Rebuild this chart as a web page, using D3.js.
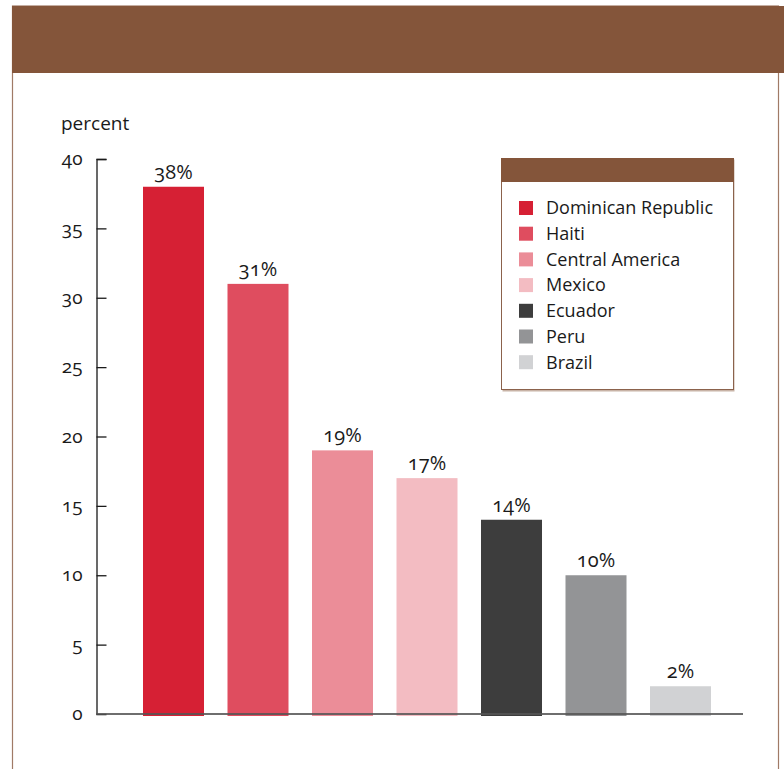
<!DOCTYPE html>
<html lang="en">
<head>
  <meta charset="utf-8">
  <title>Bar chart</title>
  <script src="https://d3js.org/d3.v7.min.js"></script>
  <style>
    body { margin: 0; background: #fff; }
    text { font-family: "Open Sans", "Lato", sans-serif; font-variant-numeric: oldstyle-nums; fill: #1a1a1a; }
  </style>
</head>
<body>
  <svg width="784" height="769"></svg>
  <script>
    const countries = ["Dominican Republic", "Haiti", "Central America", "Mexico", "Ecuador", "Peru", "Brazil"];
    const shares = [38, 31, 19, 17, 14, 10, 2];
    const colors = ["#d62034", "#df4d5f", "#eb8d98", "#f3bcc2", "#3d3d3d", "#939496", "#d1d2d4"];
    const yTicks = [0, 5, 10, 15, 20, 25, 30, 35, 40];

    const svg = d3.select("svg");
    const brown = "#84553a";

    // frame and header band
    svg.append("rect").attr("x", 12.5).attr("y", 6).attr("width", 766).attr("height", 780)
      .attr("fill", "none").attr("stroke", "#a07a66").attr("stroke-width", 1.2);
    svg.append("rect").attr("x", 12).attr("y", 6).attr("width", 772).attr("height", 67).attr("fill", brown);

    const y = d3.scaleLinear().domain([0, 40]).range([714, 159]);
    const x = d3.scaleBand().domain(countries).range([131.25, 722.75])
      .paddingInner(0.278).paddingOuter(0.139);
    const color = d3.scaleOrdinal().domain(countries).range(colors);

    svg.append("text").attr("x", 61).attr("y", 130).attr("font-size", 19).text("percent");

    // bars
    svg.selectAll("rect.bar").data(countries).join("rect").attr("class", "bar")
      .attr("x", d => x(d)).attr("width", x.bandwidth())
      .attr("y", (d, i) => y(shares[i])).attr("height", (d, i) => y(0) - y(shares[i]) + 2)
      .attr("fill", d => color(d));

    svg.selectAll("text.val").data(countries).join("text").attr("class", "val")
      .attr("x", d => x(d) + x.bandwidth() / 2).attr("y", (d, i) => y(shares[i]) - 8)
      .attr("text-anchor", "middle").attr("font-size", 20)
      .text((d, i) => shares[i] + "%");

    // y axis with inward ticks
    const axis = svg.append("g").attr("transform", "translate(96.5,0)")
      .call(d3.axisRight(y).tickValues(yTicks).tickSize(10).tickSizeOuter(10).tickPadding(-24));
    axis.select(".domain").attr("stroke", "#1a1a1a").attr("stroke-width", 1.3);
    axis.selectAll(".tick line").attr("stroke", "#1a1a1a").attr("stroke-width", 1.3);
    axis.selectAll(".tick text").attr("text-anchor", "end").attr("font-size", 19)
      .attr("font-family", null).attr("fill", "#1a1a1a").attr("dy", "0.3em");
    axis.selectAll(".tick").filter(d => d === 0).select("line").remove();

    // baseline
    svg.append("line").attr("x1", 96).attr("x2", 743).attr("y1", y(0)).attr("y2", y(0))
      .attr("stroke", "#555").attr("stroke-width", 2).attr("stroke-opacity", 0.85);

    // legend
    const lg = svg.append("g").attr("transform", "translate(501,158)");
    lg.append("rect").attr("x", 1.5).attr("y", 1.5).attr("width", 232).attr("height", 232)
      .attr("fill", "#c8b3a6");
    lg.append("rect").attr("x", 0.5).attr("y", 0.5).attr("width", 232).attr("height", 231)
      .attr("fill", "#fff").attr("stroke", "#8b624c").attr("stroke-width", 1);
    lg.append("rect").attr("x", 0).attr("y", 0).attr("width", 233).attr("height", 24).attr("fill", brown);
    const items = lg.selectAll("g.item").data(countries).join("g").attr("class", "item")
      .attr("transform", (d, i) => `translate(18,${50 + i * 25.7})`);
    items.append("rect").attr("x", 0).attr("y", -7).attr("width", 14).attr("height", 14)
      .attr("fill", d => color(d));
    items.append("text").attr("x", 27).attr("y", 0).attr("dy", "0.35em")
      .attr("font-size", 18).text(d => d);
  </script>
</body>
</html>
